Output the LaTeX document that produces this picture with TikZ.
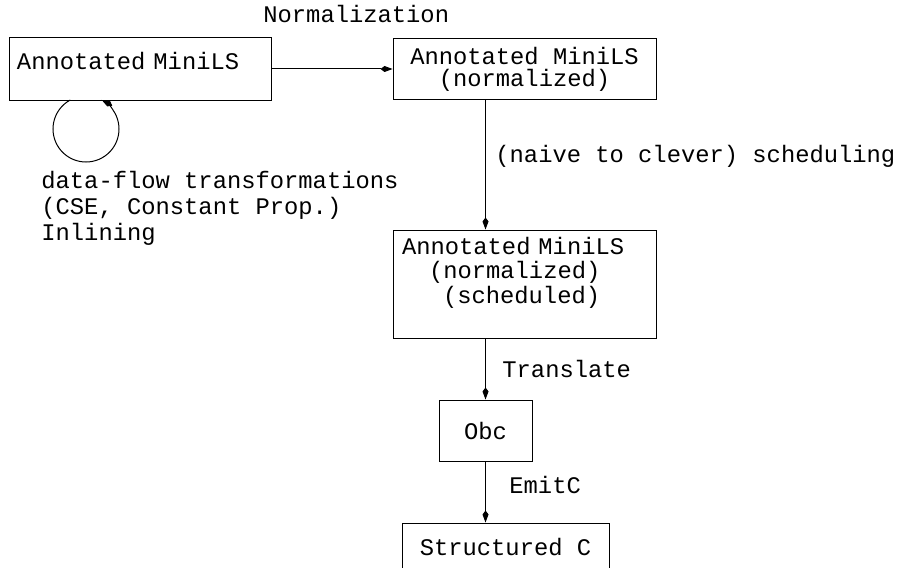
\documentclass[tikz,border=0pt]{standalone}
\usepackage{fontspec}
\newfontfamily\figfont{Liberation Mono}
\usetikzlibrary{arrows.meta}

\begin{document}
\begin{tikzpicture}[x=0.5pt,y=-0.5pt,>={Kite[length=6pt,width=3pt,inset=2pt]},
  every node/.style={font=\figfont\fontsize{11.9}{13}\selectfont, inner sep=0pt},
  box/.style={draw, line width=0.5pt, fill=white, align=center},
  flow/.style={->, line width=0.5pt}]
\useasboundingbox (0,0) rectangle (897,567);

\node[box, minimum width=131pt, minimum height=31pt, text width=123pt, align=left,
  text height=4.5pt, text depth=4pt] (src) at (140,69) {Annotated MiniLS};
\node[box, minimum width=131.5pt, minimum height=30pt,
  font=\figfont\fontsize{11.9}{11}\selectfont] (norm) at (524.5,69) {Annotated MiniLS\\(normalized)};
\node[box, minimum width=131.5pt, minimum height=54pt, text width=122.5pt, align=left,
  text height=7.5pt, text depth=37.5pt,
  font=\figfont\fontsize{11.9}{12.25}\selectfont] (sched) at (524.5,284)
  {Annotated MiniLS\\\hspace*{13.5pt}(normalized)\\\hspace*{20.5pt}(scheduled)};
\node[box, minimum width=46.5pt, minimum height=30.5pt] (obc) at (485.5,430.5) {Obc};
\node[box, minimum width=103.5pt, minimum height=24pt] (cgen) at (505.5,547) {Structured C};

% self loop under the source box
\coordinate (loopc) at (86,129);
\draw[flow] ([shift={(241.6:33)}]loopc) arc[start angle=241.6, end angle=-61.6, radius=33];

\draw[flow] (src) -- (norm);
\draw[flow] (norm.south -| obc) -- (sched.north -| obc);
\draw[flow] (sched.south -| obc) -- (obc);
\draw[flow] (obc) -- (cgen.north -| obc);

\node[anchor=base west] (normlbl) at (263,23) {Normalization};
\node[anchor=base west] (schedlbl) at (495,162) {(naive to clever) scheduling};
\node[anchor=base west] (translbl) at (502,377) {Translate};
\node[anchor=base west] (emitlbl) at (509,493) {EmitC};
\node[anchor=north west, align=left] (looplbl) at (41,171)
  {data-flow transformations\\(CSE, Constant Prop.)\\Inlining};
\end{tikzpicture}
\end{document}
